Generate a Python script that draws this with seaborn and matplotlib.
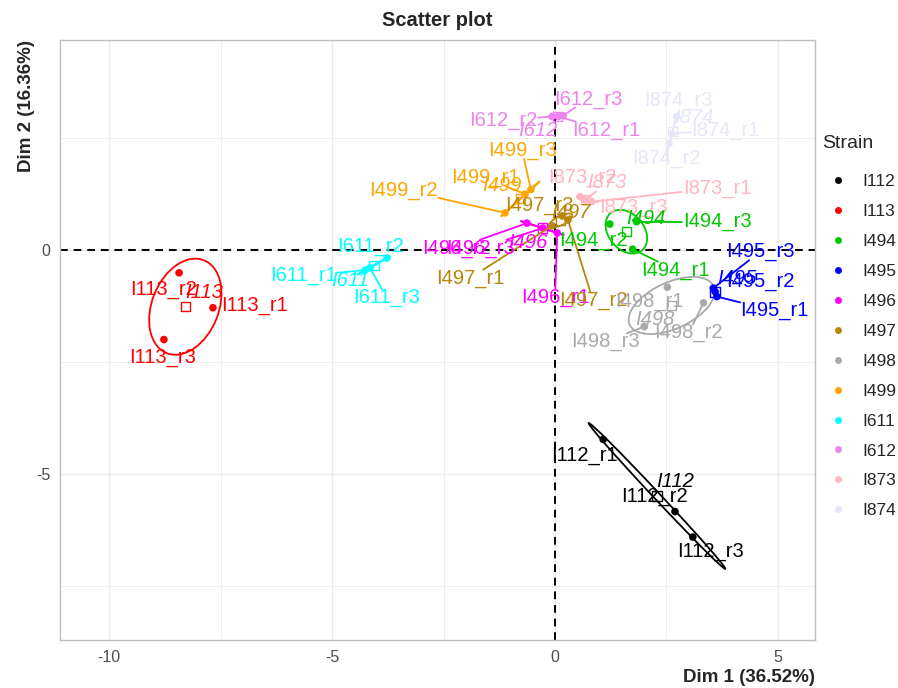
import numpy as np
import pandas as pd
import matplotlib
matplotlib.use('Agg')
import matplotlib.pyplot as plt
from matplotlib.patches import Ellipse
import seaborn as sns

# PCA coordinates per strain (r1, r2, r3)
strains = ['I112', 'I113', 'I494', 'I495', 'I496', 'I497', 'I498', 'I499', 'I611', 'I612', 'I873', 'I874']
replicates = ['r1', 'r2', 'r3']
dim1 = {
    'I112': [1.08, 2.69, 3.09],
    'I113': [-7.67, -8.43, -8.77],
    'I494': [1.74, 1.23, 1.83],
    'I495': [3.63, 3.59, 3.55],
    'I496': [0.05, -0.63, -0.27],
    'I497': [-0.07, 0.29, 0.16],
    'I498': [2.52, 3.33, 2.00],
    'I499': [-0.67, -1.12, -0.54],
    'I611': [-4.26, -3.77, -4.15],
    'I612': [0.07, -0.07, 0.18],
    'I873': [0.82, 0.56, 0.67],
    'I874': [2.62, 2.56, 2.73],
}
dim2 = {
    'I112': [-4.23, -5.84, -6.41],
    'I113': [-1.29, -0.51, -2.00],
    'I494': [0.02, 0.58, 0.63],
    'I495': [-1.04, -0.93, -0.85],
    'I496': [0.38, 0.60, 0.49],
    'I497': [0.54, 0.67, 0.76],
    'I498': [-0.83, -1.18, -1.71],
    'I499': [1.25, 0.83, 1.35],
    'I611': [-0.45, -0.18, -0.40],
    'I612': [2.98, 2.98, 3.00],
    'I873': [1.08, 1.19, 1.12],
    'I874': [2.60, 2.38, 2.98],
}
var_dim1 = 36.52
var_dim2 = 16.36

colors = ['#000000', '#FF0000', '#00C800', '#0000FF', '#FF00FF', '#B8860B',
          '#A9A9A9', '#FFA500', '#00FFFF', '#EE82EE', '#FFB6C1', '#E6E6FA']
pal = dict(zip(strains, colors))

# label placement (layout, data coords of text centre)
label_pos = {
    'I112_r1': (0.67, -4.58), 'I112_r2': (2.24, -5.51), 'I112_r3': (3.48, -6.74),
    'I113_r1': (-6.73, -1.25), 'I113_r2': (-8.79, -0.89), 'I113_r3': (-8.79, -2.39),
    'I494_r1': (2.69, -0.45), 'I494_r2': (0.85, 0.22), 'I494_r3': (3.65, 0.63),
    'I495_r1': (4.91, -1.36), 'I495_r2': (4.60, -0.71), 'I495_r3': (4.60, -0.04),
    'I496_r1': (0.00, -1.07), 'I496_r2': (-2.22, 0.04), 'I496_r3': (-1.68, 0.04),
    'I497_r1': (-1.91, -0.63), 'I497_r2': (0.85, -1.12), 'I497_r3': (-0.34, 1.00),
    'I498_r1': (2.11, -1.16), 'I498_r2': (3.00, -1.85), 'I498_r3': (1.12, -2.05),
    'I499_r1': (-1.57, 1.61), 'I499_r2': (-3.41, 1.34), 'I499_r3': (-0.74, 2.23),
    'I611_r1': (-5.65, -0.58), 'I611_r2': (-4.13, 0.07), 'I611_r3': (-3.77, -1.07),
    'I612_r1': (1.14, 2.68), 'I612_r2': (-1.17, 2.90), 'I612_r3': (0.74, 3.37),
    'I873_r1': (3.63, 1.38), 'I873_r2': (0.61, 1.61), 'I873_r3': (1.75, 0.94),
    'I874_r1': (3.83, 2.68), 'I874_r2': (2.49, 2.05), 'I874_r3': (2.76, 3.35),
}
mean_pos = {
    'I112': (2.69, -5.18), 'I113': (-7.87, -0.96), 'I494': (2.04, 0.71),
    'I495': (4.08, -0.63), 'I496': (-0.61, 0.16), 'I497': (0.36, 0.83),
    'I498': (2.24, -1.56), 'I499': (-1.19, 1.45), 'I611': (-4.60, -0.67),
    'I612': (-0.38, 2.68), 'I873': (1.17, 1.50), 'I874': (3.12, 2.95),
}

rows = []
for s in strains:
    for i, r in enumerate(replicates):
        rows.append({'name': f'{s}_{r}', 'Strain': s, 'dim1': dim1[s][i], 'dim2': dim2[s][i]})
df = pd.DataFrame(rows)
means = df.groupby('Strain', sort=False)[['dim1', 'dim2']].mean()

sns.set_style('white')
plt.rcParams['font.family'] = ['Liberation Sans', 'DejaVu Sans']
plt.rcParams['axes.unicode_minus'] = False

fig = plt.figure(figsize=(8.98, 6.88), dpi=100)
ax = fig.add_axes([60 / 898, 48 / 688, 755 / 898, 600 / 688])

ax.set_xlim(-11.1, 5.83)
ax.set_ylim(-8.71, 4.69)
ax.set_xticks([-10, -5, 0, 5])
ax.set_xticks([-7.5, -2.5, 2.5], minor=True)
ax.set_yticks([-5, 0])
ax.set_yticks([-7.5, -2.5, 2.5], minor=True)
ax.grid(True, which='major', color='#EBEBEB', lw=1.0, zorder=0)
ax.grid(True, which='minor', color='#EBEBEB', lw=0.6, zorder=0)
ax.set_axisbelow(True)
for sp in ax.spines.values():
    sp.set_color('#BEBEBE')
    sp.set_linewidth(1.0)
ax.tick_params(which='both', length=0, labelsize=11.5, labelcolor='#4D4D4D', pad=7)

ax.axhline(0, color='black', ls=(0, (4, 3)), lw=1.4, zorder=1)
ax.axvline(0, color='black', ls=(0, (4, 3)), lw=1.4, zorder=1)

# ellipses from the covariance of each group
k = 1.44
for s in strains:
    pts = df[df.Strain == s][['dim1', 'dim2']].to_numpy()
    cov = np.cov(pts.T)
    vals, vecs = np.linalg.eigh(cov)
    order = vals.argsort()[::-1]
    vals, vecs = vals[order], vecs[:, order]
    ang = np.degrees(np.arctan2(vecs[1, 0], vecs[0, 0]))
    w, h = 2 * k * np.sqrt(np.maximum(vals, 1e-6))
    ax.add_patch(Ellipse(pts.mean(axis=0), w, h, angle=ang, fill=False,
                         edgecolor=pal[s], lw=1.3, zorder=2))

sns.scatterplot(data=df, x='dim1', y='dim2', hue='Strain', palette=pal,
                s=30, edgecolor='none', ax=ax, zorder=3)
ax.scatter(means.dim1, means.dim2, marker='s', facecolors='none',
           edgecolors=[pal[s] for s in means.index], s=45, linewidths=1.0, zorder=3)

texts = []
for _, row in df.iterrows():
    lx, ly = label_pos[row['name']]
    t = ax.text(lx, ly, row['name'], color=pal[row.Strain], fontsize=14.5,
                ha='center', va='center', zorder=5)
    texts.append((t, row.dim1, row.dim2, pal[row.Strain]))
for s in strains:
    lx, ly = mean_pos[s]
    t = ax.text(lx, ly, s, color=pal[s], fontsize=14.5, style='italic',
                ha='center', va='center', zorder=5)
    texts.append((t, means.loc[s, 'dim1'], means.loc[s, 'dim2'], pal[s]))

ax.set_xlabel(f'Dim 1 ({var_dim1:.2f}%)', fontsize=13.5, fontweight='bold', loc='right', labelpad=3)
ax.set_ylabel(f'Dim 2 ({var_dim2:.2f}%)', fontsize=13.5, fontweight='bold', loc='top', labelpad=1)
ax.set_title('Scatter plot', fontsize=14.5, fontweight='bold', pad=10)

leg = ax.legend(loc='upper left', bbox_to_anchor=(1.0, 0.785),
                frameon=False, fontsize=12.5, labelspacing=0.85,
                handletextpad=0.4, borderaxespad=0.0, borderpad=0.3)
for hdl in leg.legend_handles:
    hdl.set_markersize(5)
fig.text(822 / 898, 1 - 143 / 688, 'Strain', fontsize=14, va='center', ha='left')

# repel-style segments from each point to its label
fig.canvas.draw()
rend = fig.canvas.get_renderer()
inv = ax.transData.inverted()
for t, px, py, col in texts:
    bb = t.get_window_extent(rend)
    p = ax.transData.transform((px, py))
    c = np.array([(bb.x0 + bb.x1) / 2, (bb.y0 + bb.y1) / 2])
    hw, hh = bb.width / 2 + 1, bb.height / 2 - 1
    d = p - c
    if abs(d[0]) <= hw and abs(d[1]) <= hh:
        continue
    sc = min(hw / abs(d[0]) if d[0] != 0 else np.inf, hh / abs(d[1]) if d[1] != 0 else np.inf)
    e = c + sc * d
    if np.hypot(*(p - e)) < 12:
        continue
    a = inv.transform(p)
    b = inv.transform(e)
    ax.plot([a[0], b[0]], [a[1], b[1]], color=col, lw=1.3, zorder=4)

fig.savefig('out.png', dpi=100)
